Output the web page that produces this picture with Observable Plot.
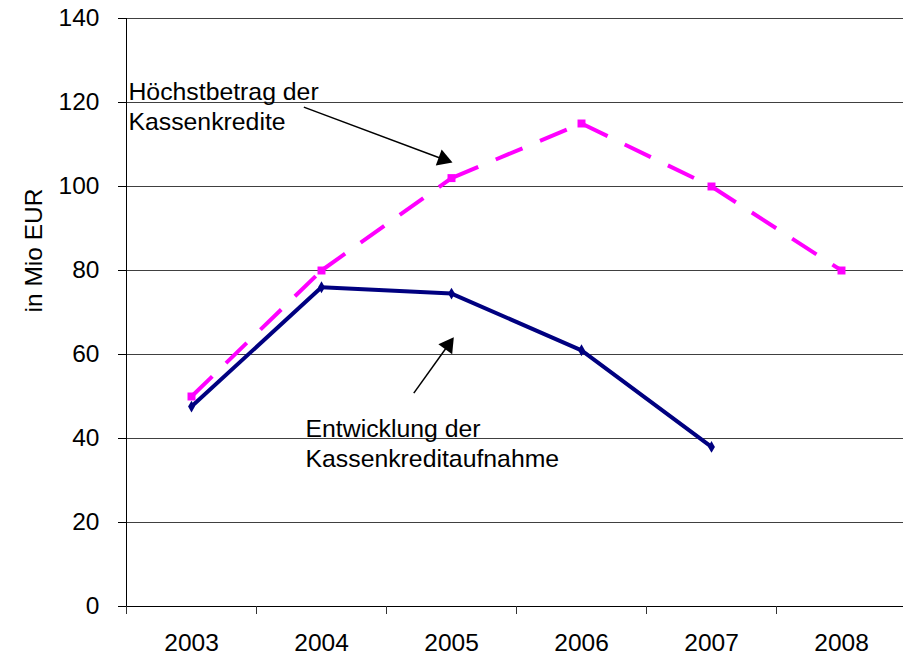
<!DOCTYPE html>
<html><head><meta charset="utf-8">
<script src="https://cdn.jsdelivr.net/npm/d3@7"></script>
<script src="https://cdn.jsdelivr.net/npm/@observablehq/plot@0.6"></script>
<style>html,body{margin:0;padding:0;background:#fff} #chart svg{display:block}</style>
</head><body><div id="chart"></div>
<script>
// ---- data ----
const years = [2003, 2004, 2005, 2006, 2007, 2008];
const hoechstbetrag = [50, 80, 102, 115, 100, 80];      // Höchstbetrag der Kassenkredite
const kreditaufnahme = [47.6, 76, 74.5, 61, 38];        // Entwicklung der Kassenkreditaufnahme (bis 2007)
const yTicks = [0, 20, 40, 60, 80, 100, 120, 140];
const yLabel = "in Mio EUR";
const labelHoechst = "Höchstbetrag der\nKassenkredite";
const labelEntw = "Entwicklung der\nKassenkreditaufnahme";
// annotation anchors (data coordinates: year, value)
const notes = [
  {x: 2002.515, y: 113.5, text: labelHoechst},
  {x: 2003.877, y: 33.2, text: labelEntw}
];
const arrows = [
  {x1: 2003.864, y1: 118.9, x2: 2004.937, y2: 106.5, angle: 110.2},
  {x1: 2004.71, y1: 50.8, x2: 2004.974, y2: 62.2, angle: 35.5}
];

// ---- derived tables ----
const hRows = years.map((year, i) => ({year, value: hoechstbetrag[i]}));
const kRows = kreditaufnahme.map((value, i) => ({year: years[i], value}));
const segs = rows => rows.slice(1).map((r, i) => ({x1: rows[i].year, y1: rows[i].value, x2: r.year, y2: r.value}));
const bounds = [years[0] - 0.5, ...years.map(y => y + 0.5)];

const chart = Plot.plot({
  width: 903,
  height: 656,
  marginTop: 18,
  marginBottom: 50,
  marginLeft: 126,
  marginRight: 0,
  style: {fontFamily: "'Liberation Sans', Arial, sans-serif", fontSize: "24.5px", color: "black", background: "white"},
  x: {domain: [bounds[0], bounds[bounds.length - 1]], range: [126, 906], ticks: years, tickFormat: d => String(d), tickSize: 0, tickPadding: 27, label: null},
  y: {domain: [0, 140], ticks: yTicks, tickSize: 8, tickPadding: 19, label: null},
  marks: [
    Plot.ruleY(yTicks.filter(d => d > 0), {stroke: "#404040", strokeWidth: 1}),
    Plot.ruleX([bounds[0]], {stroke: "black", strokeWidth: 1}),
    Plot.ruleY([0], {stroke: "black", strokeWidth: 1, insetLeft: -8}),
    Plot.ruleX(bounds, {y1: 0, y2: 0, insetBottom: -8, stroke: "#333", strokeWidth: 1}),
    Plot.link(segs(hRows), {x1: "x1", y1: "y1", x2: "x2", y2: "y2", stroke: "#FF00FF", strokeWidth: 4, strokeDasharray: "29,19", strokeLinecap: "butt"}),
    Plot.link(segs(kRows), {x1: "x1", y1: "y1", x2: "x2", y2: "y2", stroke: "#000080", strokeWidth: 4, strokeLinecap: "round"}),
    Plot.dot(hRows, {x: "year", y: "value", symbol: "square", r: 4.5, fill: "#FF00FF"}),
    Plot.dot(kRows, {x: "year", y: "value", symbol: "diamond", r: 3.6, fill: "#000080"}),
    Plot.text(notes, {x: "x", y: "y", text: "text", textAnchor: "start", lineAnchor: "bottom", lineHeight: 1.22, fontSize: 24.8, fill: "black"}),
    Plot.link(arrows, {x1: "x1", y1: "y1", x2: "x2", y2: "y2", stroke: "black", strokeWidth: 1.5}),
    Plot.dot(arrows, {x: "x2", y: "y2", symbol: "triangle", r: 6.3, fill: "black", rotate: "angle"}),
    Plot.text([yLabel], {text: d => d, frameAnchor: "left", dx: -92, rotate: -90, fontSize: 24.5, fill: "black"})
  ]
});
document.getElementById("chart").appendChild(chart);
</script>
</body></html>
